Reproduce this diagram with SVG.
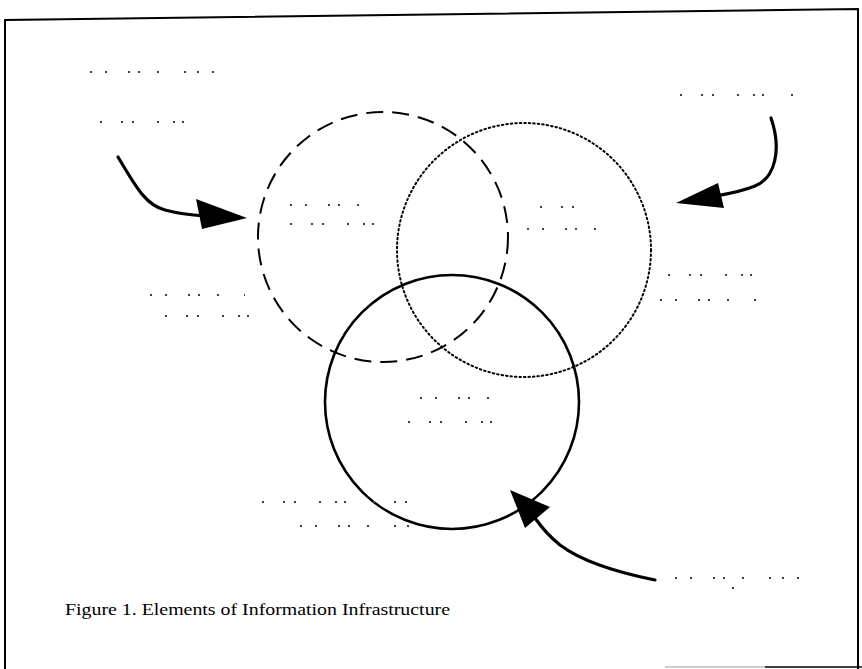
<svg xmlns="http://www.w3.org/2000/svg" width="862" height="669" viewBox="0 0 862 669">
<style>
.frame{fill:none;stroke:#000;stroke-width:2}
.c{fill:none;stroke:#000}
.dash{stroke-width:2;stroke-dasharray:17 9}
.dot{stroke-width:2;stroke-dasharray:1.5 3;stroke-linecap:round}
.solid{stroke-width:2.6}
.arr{fill:none;stroke:#000;stroke-width:3.2;stroke-linecap:round}
.head{fill:#000}
.speck{stroke:#444;stroke-width:2;stroke-dasharray:2 13 2 21 2 8 2 17 2 25 2 11}
.speck2{stroke:#444;stroke-width:2;stroke-dasharray:2 19 2 9 2 23 2 14 2 7 2 27}
.cap{font-family:"Liberation Serif","Times New Roman",serif;font-size:16px;fill:#000}
</style>
<rect width="862" height="669" fill="#fff"/>
<g id="frame">
<polyline class="frame" points="5,669 5,20 858,9 858,669"/>
<line x1="665" y1="667" x2="765" y2="667" stroke="#bbb" stroke-width="1.5"/>
<line x1="765" y1="667" x2="862" y2="667" stroke="#000" stroke-width="1.5"/>
</g>
<g id="circle-dashed"><circle class="c dash" cx="383" cy="237" r="125"/></g>
<g id="circle-dotted"><circle class="c dot" cx="524" cy="250" r="127"/></g>
<g id="circle-solid"><circle class="c solid" cx="452" cy="402" r="127"/></g>
<g id="connectors">
<path class="arr" d="M118,157 C135,185 145,205 165,210 C180,214 190,215 205,216"/>
<polygon class="head" points="196,199 202,229 247,218"/>
<path class="arr" d="M771,118 C782,150 775,178 755,186 C740,192 728,194 715,196"/>
<polygon class="head" points="718,183 724,208 676,203"/>
<path class="arr" d="M655,580 C615,572 580,560 560,545 C550,537 542,528 535,518"/>
<polygon class="head" points="525,528 550,507 510,490"/>
</g>
<g id="faint-labels">
<line class="speck" x1="90" y1="72" x2="215" y2="72"/>
<line class="speck2" x1="100" y1="122" x2="205" y2="122"/>
<line class="speck2" x1="680" y1="95" x2="808" y2="95"/>
<line class="speck" x1="290" y1="205" x2="372" y2="205"/>
<line class="speck2" x1="290" y1="224" x2="378" y2="224"/>
<line class="speck2" x1="540" y1="207" x2="588" y2="207"/>
<line class="speck" x1="527" y1="229" x2="618" y2="229"/>
<line class="speck" x1="150" y1="295" x2="245" y2="295"/>
<line class="speck2" x1="165" y1="316" x2="258" y2="316"/>
<line class="speck2" x1="668" y1="275" x2="760" y2="275"/>
<line class="speck" x1="660" y1="300" x2="760" y2="300"/>
<line class="speck" x1="420" y1="398" x2="506" y2="398"/>
<line class="speck2" x1="408" y1="422" x2="498" y2="422"/>
<line class="speck2" x1="262" y1="502" x2="418" y2="502"/>
<line class="speck" x1="300" y1="526" x2="410" y2="526"/>
<line class="speck" x1="675" y1="578" x2="800" y2="578"/>
<line class="speck2" x1="732" y1="588" x2="750" y2="588"/>
</g>
<g id="caption">
<text class="cap" x="65" y="615" textLength="385" lengthAdjust="spacingAndGlyphs">Figure 1.  Elements of Information Infrastructure</text>
</g>
</svg>
